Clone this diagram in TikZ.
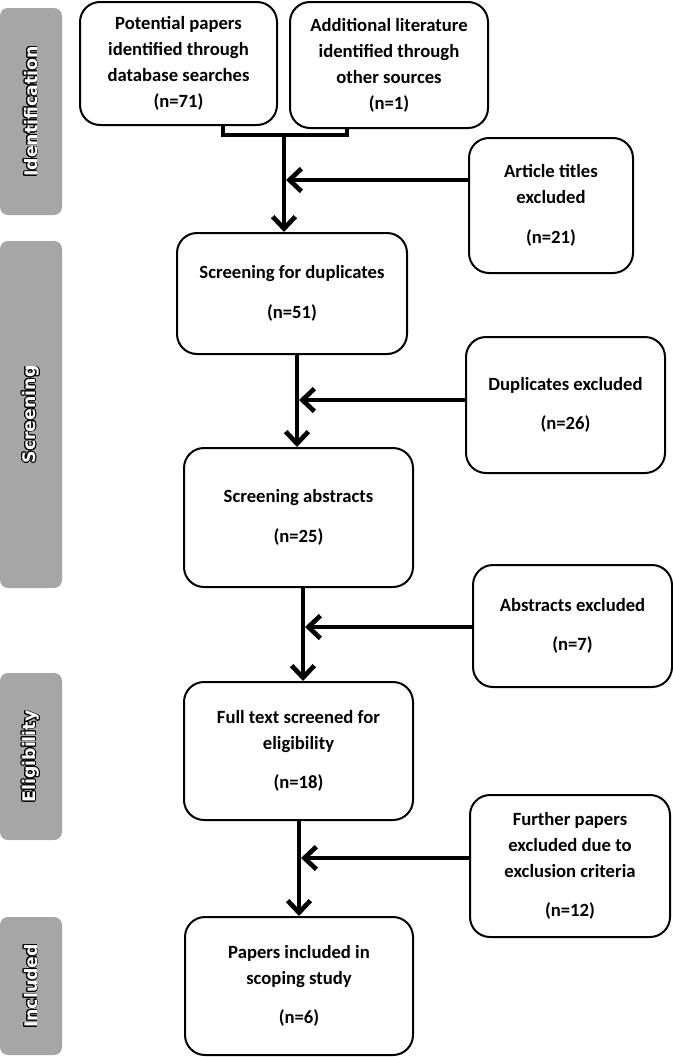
\documentclass[tikz,border=0pt]{standalone}
\usepackage{fontspec}
\setmainfont{Carlito}
\newfontfamily\stagefont{DejaVu Sans}
\usepackage{contour}
\contourlength{0.6pt}
\usepackage{tikz}
\usetikzlibrary{arrows.meta, calc}
\definecolor{stagegray}{HTML}{A6A6A6}
\tikzset{
  box_default/.style={draw=black, line width=1.5pt, rounded corners=15pt, fill=white, align=center, inner sep=0pt, font=\fontsize{14}{19.5}\selectfont\bfseries},
  stage_label/.style={fill=stagegray, rounded corners=6pt, rotate=90, minimum height=46.5pt, inner sep=0pt, text=white, font=\stagefont\fontsize{13}{15}\selectfont\bfseries},
  edge_line/.style={line width=3.5pt, line join=miter},
  edge_flow/.style={line width=3.5pt, -{Straight Barb[length=9pt, width=17pt]}}
}

\begin{document}
\begin{tikzpicture}[x=0.75pt, y=-0.75pt]
\useasboundingbox (0,0) rectangle (673,1057);
% stage bars
\node[stage_label, minimum width=155.25pt] (stage_ident) at (31,111.5) {\contour{black}{Identification}};
\node[stage_label, minimum width=260.25pt] (stage_screen) at (31,414.5) {\contour{black}{Screening}};
\node[stage_label, minimum width=125.25pt] (stage_elig) at (31,756.5) {\contour{black}{Eligibility}};
\node[stage_label, minimum width=103.5pt] (stage_incl) at (31,986) {\contour{black}{Included}};
% main column
\node[box_default, minimum width=147.75pt, minimum height=92.25pt] (box_a) at (178.5,63.5) {Potential papers\\identified through\\database searches\\(n=71)};
\node[box_default, minimum width=148.5pt, minimum height=94.5pt] (box_b) at (389,65) {Additional literature\\identified through\\other sources\\(n=1)};
\node[box_default, minimum width=172.5pt, minimum height=90.75pt] (box_dup) at (292,293.5) {Screening for duplicates\\[10pt](n=51)};
\node[box_default, minimum width=171.75pt, minimum height=104.25pt] (box_abs) at (298.5,517.5) {Screening abstracts\\[10pt](n=25)};
\node[box_default, minimum width=171.75pt, minimum height=103.5pt] (box_full) at (298.5,751) {Full text screened for\\eligibility\\[10pt](n=18)};
\node[box_default, minimum width=171pt, minimum height=103.5pt] (box_incl) at (299,986) {Papers included in\\scoping study\\[10pt](n=6)};
% exclusion column
\node[box_default, minimum width=123pt, minimum height=101.25pt] (box_titles) at (551,205.5) {Article titles\\excluded\\[10pt](n=21)};
\node[box_default, minimum width=149.25pt, minimum height=102pt] (box_dupex) at (565.5,405) {Duplicates excluded\\[10pt](n=26)};
\node[box_default, minimum width=149.25pt, minimum height=91.5pt] (box_absex) at (572.5,626) {Abstracts excluded\\[10pt](n=7)};
\node[box_default, minimum width=150pt, minimum height=106.5pt] (box_further) at (570,866) {Further papers\\excluded due to\\exclusion criteria\\[10pt](n=12)};
% junctions
\coordinate (merge_node) at (284,135);
\coordinate (join_titles) at (286,180);
\coordinate (join_dup) at (299,400);
\coordinate (join_abs) at (305,627);
\coordinate (join_full) at (301,858);
% connectors
\draw[edge_line] ($(box_a.south)+(44.5,0)$) |- (merge_node) -| ($(box_b.south)+(-42,0)$);
\draw[edge_flow] (merge_node) -- (merge_node |- box_dup.north);
\draw[edge_flow] (box_titles.west |- join_titles) -- (join_titles);
\draw[edge_flow] ($(join_dup |- box_dup.south)+(-2,0)$) -- ($(join_dup |- box_abs.north)+(-2,0)$);
\draw[edge_flow] (box_dupex.west |- join_dup) -- (join_dup);
\draw[edge_flow] ($(join_abs |- box_abs.south)+(-2,0)$) -- ($(join_abs |- box_full.north)+(-2,0)$);
\draw[edge_flow] (box_absex.west |- join_abs) -- (join_abs);
\draw[edge_flow] ($(join_full |- box_full.south)+(-2,0)$) -- ($(join_full |- box_incl.north)+(-2,0)$);
\draw[edge_flow] (box_further.west |- join_full) -- (join_full);
\end{tikzpicture}
\end{document}
